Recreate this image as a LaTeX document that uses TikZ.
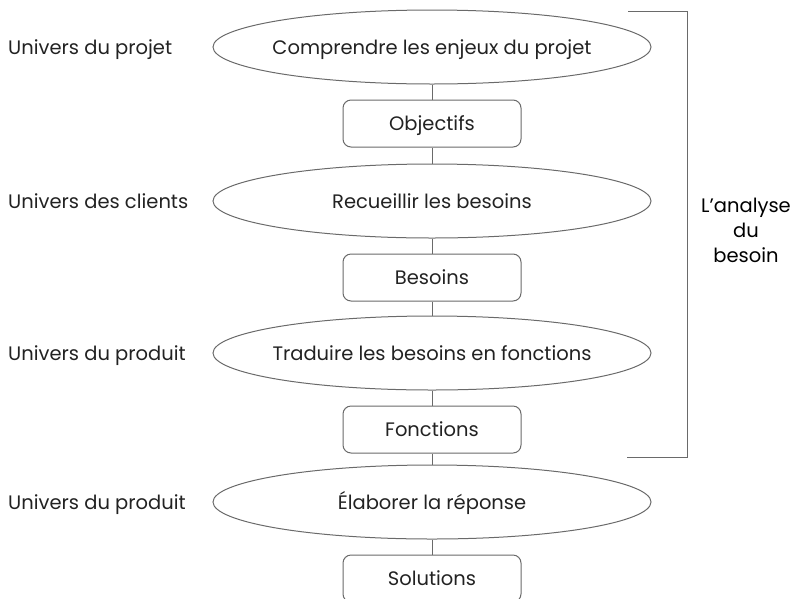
\documentclass[tikz,border=0pt]{standalone}
\usepackage{fontspec}
\setmainfont{Poppins}
\usetikzlibrary{shapes.geometric}
\definecolor{trait}{HTML}{6A6A6A}
\definecolor{texte}{HTML}{222222}
\tikzset{
  ligne/.style={text height=18pt, text depth=4pt},
  tache/.style={draw=trait, line width=1pt, shape=ellipse, minimum width=438pt, minimum height=74pt, inner sep=0pt, text=texte, ligne},
  resultat/.style={draw=trait, line width=1pt, rounded corners=8pt, minimum width=178pt, minimum height=47pt, inner sep=0pt, text=texte, ligne},
  univers/.style={anchor=west, inner sep=0pt, text=texte, ligne},
  lien/.style={draw=trait, line width=1pt},
}
% #1 name, #2 y of the ellipse, #3 univers, #4 task, #5 result
\def\etape(#1,#2,#3,#4,#5){
  \node[tache] (t#1) at (432,#2) {\makebox[0pt]{#4}};
  \node[univers] (u#1) at (8,#2) {#3};
  \node[resultat] (r#1) at (432,#2+76.5) {#5};
  \draw[lien] (t#1) -- (r#1);
}

\begin{document}
\begin{tikzpicture}[x=1pt, y=-1pt, font=\fontsize{19.5}{22}\selectfont]
\useasboundingbox (0,0) rectangle (795,598);
\etape(1,47,Univers du projet,Comprendre les enjeux du projet,Objectifs)
\etape(2,201,Univers des clients,Recueillir les besoins,Besoins)
\etape(3,353,Univers du produit,Traduire les besoins en fonctions,Fonctions)
\etape(4,502,Univers du produit,Élaborer la réponse,Solutions)
\draw[lien] (r1) -- (t2);
\draw[lien] (r2) -- (t3);
\draw[lien] (r3) -- (t4);
% accolade
\coordinate (haut) at (628,11);
\coordinate (bas) at (627,457);
\draw[lien] (haut) -- (687,11) -- (687,457) -- (bas);
\node[align=center, text=black, font=\fontsize{19.5}{25}\selectfont] (analyse) at (746,230) {L’analyse\\du\\besoin};
\end{tikzpicture}
\end{document}
